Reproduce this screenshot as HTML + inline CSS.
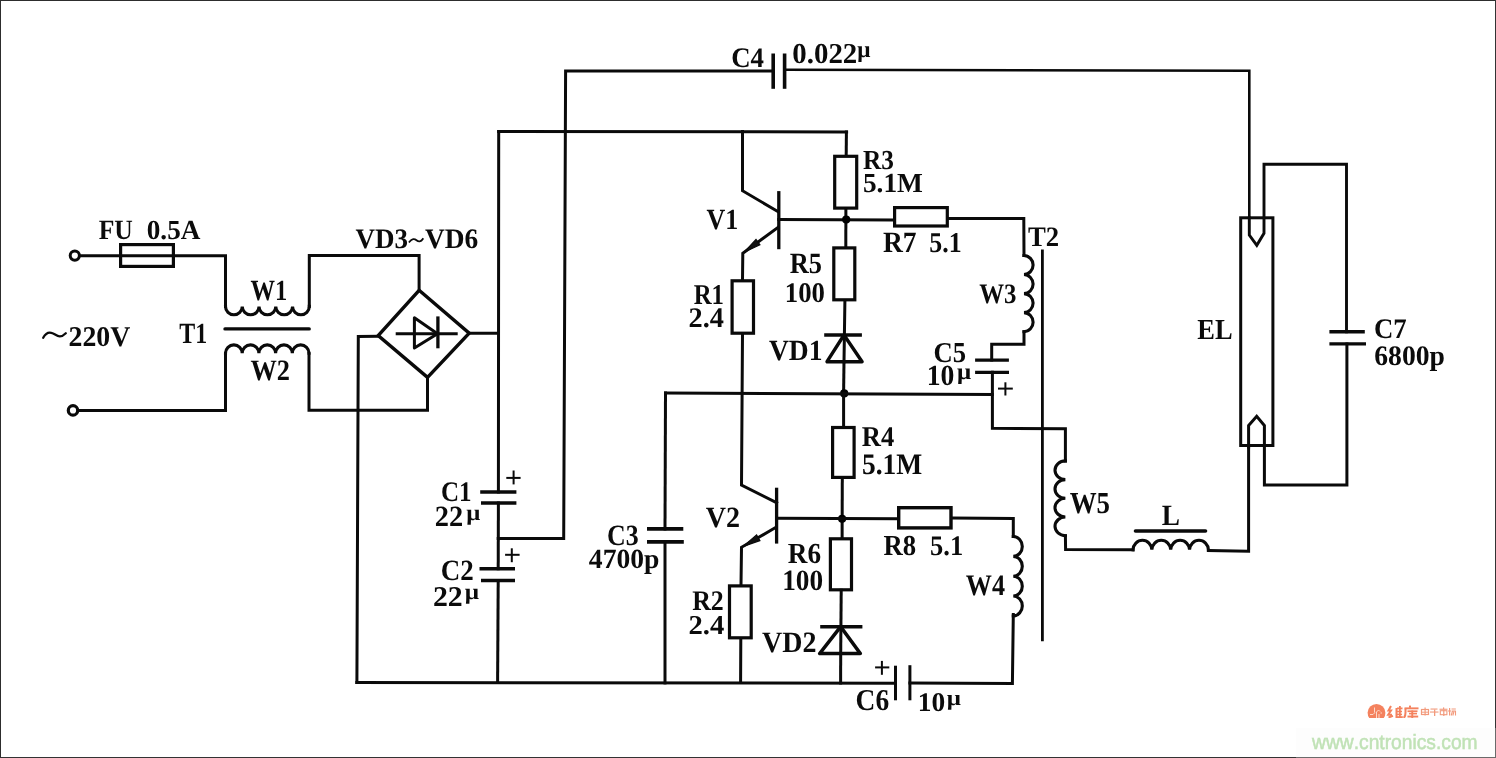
<!DOCTYPE html>
<html><head><meta charset="utf-8"><title>Electronic ballast circuit</title>
<style>
html,body{margin:0;padding:0;background:#fff;}
body{width:1496px;height:758px;overflow:hidden;position:relative;}
svg{position:absolute;left:0;top:0;display:block;}
text{font-family:"Liberation Serif",serif;fill:#0a0a0a;font-kerning:none;}
</style></head>
<body>
<svg width="1496" height="758" viewBox="0 0 1496 758" text-rendering="geometricPrecision">
<rect x="0" y="0" width="1496" height="758" fill="#fff"/>
<g stroke="#0a0a0a" stroke-linecap="square" stroke-linejoin="miter" fill="none">
<circle cx="74.8" cy="255.6" r="4.6" stroke-width="3.0" fill="#fff"/>
<path d="M79.5 255.8 L225.5 255.7 L225.5 306.4" stroke-width="3.0" fill="none"/>
<rect x="120.6" y="244.6" width="52.8" height="21.8" stroke-width="3.2" fill="none"/>
<path d="M225.5 306.4 A8.38 8.38 0 0 0 242.26 306.40 A8.38 8.38 0 0 0 259.02 306.40 A8.38 8.38 0 0 0 275.78 306.40 A8.38 8.38 0 0 0 292.54 306.40 A8.38 8.38 0 0 0 309.30 306.40" stroke-width="3.1" fill="none"/>
<path d="M309.3 306.4 L309.3 255.6 L419.1 255.6 L419.1 290.3" stroke-width="3.0" fill="none"/>
<path d="M225 328.9 L309.2 328.9" stroke-width="3.4" fill="none" stroke-linecap="round"/>
<path d="M225.5 353.2 A8.35 8.35 0 0 1 242.20 353.20 A8.35 8.35 0 0 1 258.90 353.20 A8.35 8.35 0 0 1 275.60 353.20 A8.35 8.35 0 0 1 292.30 353.20 A8.35 8.35 0 0 1 309.00 353.20" stroke-width="3.1" fill="none"/>
<path d="M225.5 353.2 L225.5 410.5 L77.6 410.4" stroke-width="3.0" fill="none"/>
<circle cx="73.0" cy="410.4" r="4.7" stroke-width="3.2" fill="#fff"/>
<path d="M309.0 353.2 L309.0 410.2 L427.5 410.2 L427.5 377.3" stroke-width="3.0" fill="none"/>
<path d="M419.1 290.3 L469.2 333.2 L427.5 377.3 L378.2 335.6 Z" stroke-width="3.4" fill="none"/>
<path d="M395.7 333.8 L457.7 333.8" stroke-width="3.1" fill="none" stroke-linecap="butt"/>
<path d="M414.4 317.8 L414.4 348.0 L437.5 333.8 Z" stroke-width="3.0" fill="none" stroke-linejoin="round"/>
<path d="M437.9 316.4 L437.9 348.3" stroke-width="3.3" fill="none" stroke-linecap="butt"/>
<path d="M378.2 336.2 L358.3 336.4 L356.9 682.4" stroke-width="3.0" fill="none"/>
<path d="M469.2 333.3 L498.4 333.3" stroke-width="3.0" fill="none"/>
<path d="M498.7 131.6 L498.4 492.0" stroke-width="3.0" fill="none"/>
<path d="M846.6 131.9 L498.7 131.6" stroke-width="3.0" fill="none"/>
<path d="M498.4 502.9 L498.2 568.8" stroke-width="3.0" fill="none"/>
<path d="M498.2 580.6 L497.6 682.6" stroke-width="3.0" fill="none"/>
<path d="M480.2 492.0 L516.4 492.0" stroke-width="3.5" fill="none" stroke-linecap="butt"/>
<path d="M481.0 502.9 L516.4 502.9" stroke-width="3.5" fill="none" stroke-linecap="butt"/>
<path d="M479.5 568.8 L515.0 568.8" stroke-width="3.5" fill="none" stroke-linecap="butt"/>
<path d="M481.0 580.6 L515.0 580.6" stroke-width="3.5" fill="none" stroke-linecap="butt"/>
<path d="M498.2 538.5 L563.7 538.5 L565.6 70.9 L773.2 71.0" stroke-width="3.0" fill="none"/>
<path d="M784.6 69.8 L1249.3 70.8 L1249.3 235.0" stroke-width="2.6" fill="none"/>
<path d="M773.2 53.5 L773.2 88.8" stroke-width="3.6" fill="none" stroke-linecap="butt"/>
<path d="M784.6 53.5 L784.6 88.8" stroke-width="3.6" fill="none" stroke-linecap="butt"/>
<path d="M356.9 682.4 L895.5 683.3" stroke-width="3.0" fill="none"/>
<path d="M909.9 683.0 L1012.4 683.5 L1013.3 614.5" stroke-width="3.0" fill="none"/>
<path d="M895.5 665.7 L895.5 700.3" stroke-width="3.0" fill="none" stroke-linecap="butt"/>
<path d="M909.9 665.2 L909.9 700.3" stroke-width="3.0" fill="none" stroke-linecap="butt"/>
<path d="M665.5 393.1 L665.0 528.9" stroke-width="3.0" fill="none"/>
<path d="M665.0 541.9 L665.0 682.9" stroke-width="3.0" fill="none"/>
<path d="M647.0 528.9 L683.3 528.9" stroke-width="3.7" fill="none" stroke-linecap="butt"/>
<path d="M647.0 541.9 L683.8 541.9" stroke-width="3.7" fill="none" stroke-linecap="butt"/>
<path d="M742.5 131.6 L742.5 190.7 L777.8 211.5" stroke-width="3.0" fill="none"/>
<path d="M778.8 191.1 L778.8 249.2" stroke-width="3.3" fill="none" stroke-linecap="butt"/>
<path d="M778.8 219.6 L893.2 219.9" stroke-width="3.0" fill="none"/>
<path d="M777.8 227.5 L742.8 253.2 L742.5 280.0" stroke-width="3.0" fill="none"/>
<path d="M744.0 252.3 L756.0 239.4 L759.9 244.7 Z" stroke-width="1.2" fill="#111"/>
<rect x="732.1" y="280.8" width="21.4" height="52.4" stroke-width="3.2" fill="#fff"/>
<path d="M742.5 334.1 L741.5 485.0 L776.6 502.7" stroke-width="3.0" fill="none"/>
<path d="M846.4 131.9 L846.2 155.6" stroke-width="3.0" fill="none"/>
<rect x="834.7" y="156.3" width="22.0" height="51.8" stroke-width="3.2" fill="#fff"/>
<path d="M845.9 208.4 L845.8 247.2" stroke-width="3.0" fill="none"/>
<circle cx="846.2" cy="219.6" r="4.1" fill="#000" stroke="none"/>
<rect x="833.8" y="247.9" width="21.0" height="51.9" stroke-width="3.2" fill="#fff"/>
<path d="M844.9 300.7 L844.0 361.7" stroke-width="3.0" fill="none"/>
<path d="M824.2 335.0 L861.9 335.0" stroke-width="3.4" fill="none" stroke-linecap="butt"/>
<path d="M844.0 335.0 L827.0 361.7 L862.1 361.7 Z" stroke-width="3.4" fill="none" stroke-linejoin="round"/>
<path d="M844.0 361.7 L843.6 393.3" stroke-width="3.0" fill="none"/>
<circle cx="844.2" cy="393.4" r="4.1" fill="#000" stroke="none"/>
<path d="M665.5 393.1 L992.3 394.4" stroke-width="3.0" fill="none"/>
<rect x="894.6" y="207.6" width="52.7" height="18.4" stroke-width="3.2" fill="#fff"/>
<path d="M948.6 218.6 L1023.8 218.4 L1024.0 255.5" stroke-width="3.0" fill="none"/>
<path d="M1024.0 255.5 A9.40 9.53 0 0 1 1024.00 274.55 A9.40 9.53 0 0 1 1024.00 293.60 A9.40 9.53 0 0 1 1024.00 312.65 A9.40 9.53 0 0 1 1024.00 331.70" stroke-width="3.1" fill="none"/>
<path d="M1024.0 331.7 L1024.0 344.3 L991.7 344.3 L991.7 360.1" stroke-width="3.0" fill="none"/>
<path d="M975.1 360.1 L1008.9 360.1" stroke-width="3.3" fill="none" stroke-linecap="butt"/>
<path d="M975.1 372.3 L1009.0 372.3" stroke-width="3.3" fill="none" stroke-linecap="butt"/>
<path d="M992.4 372.3 L992.4 428.3 L1065.4 428.8 L1065.4 460.9" stroke-width="3.0" fill="none"/>
<path d="M1042.4 251.0 L1042.4 639.8" stroke-width="2.8" fill="none"/>
<path d="M1065.4 460.9 A10.40 9.35 0 0 0 1065.40 479.60 A10.40 9.35 0 0 0 1065.40 498.30 A10.40 9.35 0 0 0 1065.40 517.00 A10.40 9.35 0 0 0 1065.40 535.70" stroke-width="3.1" fill="none"/>
<path d="M1065.4 535.7 L1065.6 549.6 L1133.0 549.8" stroke-width="3.0" fill="none"/>
<path d="M1133.0 549.8 A9.43 9.80 0 0 1 1151.85 549.80 A9.43 9.80 0 0 1 1170.70 549.80 A9.43 9.80 0 0 1 1189.55 549.80 A9.43 9.80 0 0 1 1208.40 549.80" stroke-width="3.1" fill="none"/>
<path d="M1135.5 531 L1205.5 531" stroke-width="3.6" fill="none" stroke-linecap="round"/>
<path d="M1208.4 550.6 L1248.6 551.2 L1248.6 445.0" stroke-width="3.0" fill="none"/>
<path d="M843.6 393.3 L843.6 426.6" stroke-width="3.0" fill="none"/>
<rect x="832.6" y="427.5" width="21.5" height="49.9" stroke-width="3.2" fill="#fff"/>
<path d="M842.3 477.5 L842.1 538.7" stroke-width="3.0" fill="none"/>
<circle cx="842.1" cy="518.8" r="4.1" fill="#000" stroke="none"/>
<path d="M776.6 487.7 L776.6 543.6" stroke-width="3.3" fill="none" stroke-linecap="butt"/>
<path d="M776.6 518.2 L897.7 518.8" stroke-width="3.0" fill="none"/>
<path d="M776.0 527.3 L741.5 547.3 L741.0 585.4" stroke-width="3.0" fill="none"/>
<path d="M743.2 546.4 L756.6 534.9 L759.9 540.6 Z" stroke-width="1.2" fill="#111"/>
<rect x="729.5" y="585.9" width="21.7" height="51.9" stroke-width="3.2" fill="#fff"/>
<path d="M740.8 639.0 L740.6 682.6" stroke-width="3.0" fill="none"/>
<rect x="830.4" y="538.8" width="21.1" height="51.0" stroke-width="3.2" fill="#fff"/>
<path d="M841.2 590.2 L840.7 653.5" stroke-width="3.0" fill="none"/>
<path d="M820.2 626.7 L862.4 626.7" stroke-width="3.5" fill="none" stroke-linecap="butt"/>
<path d="M840.7 626.7 L819.7 653.5 L860.3 653.5 Z" stroke-width="3.6" fill="none" stroke-linejoin="round"/>
<path d="M840.7 653.5 L840.6 683.0" stroke-width="3.0" fill="none"/>
<rect x="898.7" y="507.7" width="52.3" height="20.2" stroke-width="3.4" fill="#fff"/>
<path d="M951.8 518.1 L1013.3 518.4 L1013.3 536.5" stroke-width="3.0" fill="none"/>
<path d="M1013.3 536.5 A9.30 9.93 0 0 1 1013.30 556.35 A9.30 9.93 0 0 1 1013.30 576.20 A9.30 9.93 0 0 1 1013.30 596.05 A9.30 9.93 0 0 1 1013.30 615.90" stroke-width="3.1" fill="none"/>
<rect x="1240.7" y="217.8" width="32.2" height="227.7" stroke-width="3.0" fill="#fff"/>
<path d="M1249.3 217.8 L1249.3 235 L1256.8 245.3 L1264 233.3 L1264 164.3 L1346.5 164.3 L1346.5 331.7" stroke-width="2.9" fill="none"/>
<path d="M1329.4 331.7 L1364.8 331.7" stroke-width="3.4" fill="none" stroke-linecap="butt"/>
<path d="M1329.4 343.9 L1366.0 343.9" stroke-width="3.4" fill="none" stroke-linecap="butt"/>
<path d="M1346.9 343.9 L1346.9 485.1 L1264.4 485.1 L1264.4 425.5 L1256.7 416.2 L1248.6 425.5 L1248.6 447.0" stroke-width="3.0" fill="none"/>
<path d="M506.3 477.9 L520.6 477.9" stroke-width="2.0" fill="none" stroke-linecap="butt"/>
<path d="M513.6 470.5 L513.6 484.4" stroke-width="2.0" fill="none" stroke-linecap="butt"/>
<path d="M505.1 554.8 L519.6 554.8" stroke-width="2.0" fill="none" stroke-linecap="butt"/>
<path d="M511.8 548.3 L511.8 562.2" stroke-width="2.0" fill="none" stroke-linecap="butt"/>
<path d="M998 388.6 L1012.8 388.6" stroke-width="2.0" fill="none" stroke-linecap="butt"/>
<path d="M1005.4 382.3 L1005.4 395.5" stroke-width="2.0" fill="none" stroke-linecap="butt"/>
<path d="M875.1 667.4 L889.3 667.4" stroke-width="2.0" fill="none" stroke-linecap="butt"/>
<path d="M881.9 660.9 L881.9 674.8" stroke-width="2.0" fill="none" stroke-linecap="butt"/>
<path d="M43.2 337.8 C45.5 333.5, 48.5 331.6, 52.5 333.2 S59.5 339.6, 65.8 333.3" stroke-width="2.3" fill="none" stroke-linecap="round"/>
<path d="M409.5 241.8 C412 238.5, 414.5 238.5, 416.5 240.2 S421 242, 422.8 239" stroke-width="1.8" fill="none"/>
</g>
<g opacity="0.995">
<text transform="translate(98.66 238.90) scale(0.917 1)" font-size="27.95" font-weight="bold">FU</text>
<text transform="translate(146.76 238.90) scale(0.988 1)" font-size="27.52" font-weight="bold">0.5A</text>
<text transform="translate(250.55 300.20) scale(0.837 1)" font-size="29.24" font-weight="bold">W1</text>
<text transform="translate(179.23 343.30) scale(0.818 1)" font-size="29.24" font-weight="bold">T1</text>
<text transform="translate(250.53 379.50) scale(0.890 1)" font-size="29.60" font-weight="bold">W2</text>
<text transform="translate(68.53 345.90) scale(0.973 1)" font-size="28.57" font-weight="bold">220V</text>
<text transform="translate(355.40 248.10) scale(0.957 1)" font-size="28.24" font-weight="bold">VD3</text>
<text transform="translate(424.89 248.10) scale(0.971 1)" font-size="28.24" font-weight="bold">VD6</text>
<text transform="translate(731.19 66.50) scale(0.950 1)" font-size="28.24" font-weight="bold">C4</text>
<text transform="translate(792.30 62.90) scale(1.001 1)" font-size="28.87" font-weight="bold">0.022</text>
<text transform="translate(857.20 56.56) scale(1.002 1)" font-size="23.22" font-weight="bold">μ</text>
<text transform="translate(863.07 168.50) scale(0.920 1)" font-size="27.49" font-weight="bold">R3</text>
<text transform="translate(862.91 192.20) scale(0.992 1)" font-size="27.57" font-weight="bold">5.1M</text>
<text transform="translate(706.61 229.40) scale(0.888 1)" font-size="29.24" font-weight="bold">V1</text>
<text transform="translate(882.93 252.10) scale(0.934 1)" font-size="29.48" font-weight="bold">R7</text>
<text transform="translate(929.36 252.40) scale(0.900 1)" font-size="28.78" font-weight="bold">5.1</text>
<text transform="translate(789.75 273.20) scale(0.899 1)" font-size="29.32" font-weight="bold">R5</text>
<text transform="translate(784.76 301.90) scale(0.942 1)" font-size="28.42" font-weight="bold">100</text>
<text transform="translate(693.68 303.60) scale(0.866 1)" font-size="28.63" font-weight="bold">R1</text>
<text transform="translate(688.51 327.10) scale(0.998 1)" font-size="28.39" font-weight="bold">2.4</text>
<text transform="translate(768.89 359.70) scale(0.942 1)" font-size="29.24" font-weight="bold">VD1</text>
<text transform="translate(933.60 362.10) scale(0.924 1)" font-size="28.85" font-weight="bold">C5</text>
<text transform="translate(926.78 384.90) scale(0.944 1)" font-size="29.32" font-weight="bold">10</text>
<text transform="translate(956.98 378.99) scale(1.081 1)" font-size="23.07" font-weight="bold">μ</text>
<text transform="translate(1027.98 245.80) scale(0.951 1)" font-size="28.09" font-weight="bold">T2</text>
<text transform="translate(979.25 303.30) scale(0.885 1)" font-size="28.09" font-weight="bold">W3</text>
<text transform="translate(1069.72 512.70) scale(0.885 1)" font-size="30.39" font-weight="bold">W5</text>
<text transform="translate(1161.63 525.30) scale(0.931 1)" font-size="29.32" font-weight="bold">L</text>
<text transform="translate(1373.89 337.80) scale(0.949 1)" font-size="28.24" font-weight="bold">C7</text>
<text transform="translate(1374.26 365.20) scale(0.979 1)" font-size="28.25" font-weight="bold">6800p</text>
<text transform="translate(1197.35 338.80) scale(0.911 1)" font-size="29.02" font-weight="bold">EL</text>
<text transform="translate(606.94 544.60) scale(0.884 1)" font-size="29.30" font-weight="bold">C3</text>
<text transform="translate(588.82 567.70) scale(0.994 1)" font-size="27.79" font-weight="bold">4700p</text>
<text transform="translate(705.68 527.20) scale(0.958 1)" font-size="29.30" font-weight="bold">V2</text>
<text transform="translate(861.85 446.00) scale(0.929 1)" font-size="28.56" font-weight="bold">R4</text>
<text transform="translate(861.90 473.60) scale(0.926 1)" font-size="29.69" font-weight="bold">5.1M</text>
<text transform="translate(883.44 554.70) scale(0.920 1)" font-size="29.02" font-weight="bold">R8</text>
<text transform="translate(930.04 554.70) scale(0.936 1)" font-size="28.33" font-weight="bold">5.1</text>
<text transform="translate(787.83 562.90) scale(0.934 1)" font-size="29.15" font-weight="bold">R6</text>
<text transform="translate(782.22 589.70) scale(0.926 1)" font-size="29.47" font-weight="bold">100</text>
<text transform="translate(692.16 610.00) scale(0.912 1)" font-size="28.39" font-weight="bold">R2</text>
<text transform="translate(688.50 633.60) scale(1.049 1)" font-size="27.34" font-weight="bold">2.4</text>
<text transform="translate(761.99 651.80) scale(0.945 1)" font-size="29.60" font-weight="bold">VD2</text>
<text transform="translate(855.56 709.60) scale(0.904 1)" font-size="30.36" font-weight="bold">C6</text>
<text transform="translate(917.80 711.40) scale(1.014 1)" font-size="27.07" font-weight="bold">10</text>
<text transform="translate(946.78 705.21) scale(1.132 1)" font-size="22.03" font-weight="bold">μ</text>
<text transform="translate(965.83 594.50) scale(0.879 1)" font-size="29.78" font-weight="bold">W4</text>
<text transform="translate(440.88 500.80) scale(0.887 1)" font-size="28.24" font-weight="bold">C1</text>
<text transform="translate(434.71 526.40) scale(0.970 1)" font-size="29.30" font-weight="bold">22</text>
<text transform="translate(466.19 519.88) scale(1.094 1)" font-size="22.62" font-weight="bold">μ</text>
<text transform="translate(440.78 580.20) scale(0.921 1)" font-size="29.30" font-weight="bold">C2</text>
<text transform="translate(432.95 605.60) scale(1.040 1)" font-size="28.70" font-weight="bold">22</text>
<text transform="translate(464.78 599.15) scale(1.125 1)" font-size="22.33" font-weight="bold">μ</text>
</g>
<!-- watermark -->
<g>
<rect x="1361" y="702" width="95" height="16" fill="#fff"/>
<clipPath id="lc"><rect x="1360" y="700" width="100" height="18"/></clipPath>
<g clip-path="url(#lc)">
<circle cx="1376.5" cy="712.8" r="8.9" fill="#f4825e"/>
<path d="M1370 714.5 h3 l2 -2 M1374.5 712.5 v-5 M1376.5 718 v-6 l2 -2 M1379 714 v4 M1378.5 710 l1.5 1.5 M1380.5 713 h1.5" stroke="#fde3d8" stroke-width="0.9" fill="none"/>
<g fill="#f4825e">
<!-- 维 -->
<path d="M1391 706 l-2.5 4.5 h2.5 l-2.8 4.2 h3.8 M1388.5 717.5 l4.5 -1.6" stroke="#f4825e" stroke-width="2" fill="none"/>
<rect x="1395.5" y="708" width="2" height="10"/>
<rect x="1397" y="707.5" width="5.5" height="1.8"/>
<rect x="1397" y="710.7" width="5" height="1.6"/>
<rect x="1397" y="713.6" width="5" height="1.6"/>
<rect x="1397" y="716.2" width="5.8" height="1.8"/>
<rect x="1399" y="706" width="1.8" height="11"/>
<!-- 库 -->
<rect x="1409" y="705.6" width="2" height="2.2"/>
<rect x="1404.5" y="707.4" width="14" height="1.9"/>
<path d="M1405.5 708.5 v4 q0 4 -1.8 5.5" stroke="#f4825e" stroke-width="2" fill="none"/>
<rect x="1407.5" y="710.4" width="10" height="1.7"/>
<rect x="1409" y="712.8" width="8" height="1.6"/>
<rect x="1407.5" y="715.6" width="10.7" height="1.9"/>
<rect x="1411.3" y="710.5" width="1.9" height="7.5"/>
</g>
<g fill="#f29a7c">
<!-- 电子市场 -->
<rect x="1421.5" y="709.5" width="7" height="5" fill="none" stroke="#f29a7c" stroke-width="1.2"/>
<rect x="1421.5" y="711.7" width="7" height="1"/>
<rect x="1424.5" y="707.5" width="1.2" height="8"/>
<rect x="1430.5" y="708.5" width="7" height="1.1"/>
<rect x="1430" y="711.5" width="8.5" height="1.1"/>
<rect x="1434" y="709.5" width="1.3" height="6.5"/>
<rect x="1443" y="707.4" width="1.2" height="1.6"/>
<rect x="1439.5" y="708.7" width="8" height="1.1"/>
<rect x="1440.3" y="710.7" width="6.6" height="4" fill="none" stroke="#f29a7c" stroke-width="1.1"/>
<rect x="1443.2" y="709.5" width="1.2" height="6.5"/>
<rect x="1449" y="708" width="1.2" height="7.5"/>
<rect x="1448" y="710.5" width="3.2" height="1"/>
<rect x="1451.5" y="708.5" width="4.3" height="1"/>
<path d="M1451.8 711 h4 M1452.5 711 l-1.3 4.5 M1454 711.5 l-1.2 4 M1455.5 711 v4.5" stroke="#f29a7c" stroke-width="1.1" fill="none"/>
</g>
</g>
<rect x="1296" y="728" width="200" height="30" fill="#f8f8f8" fill-opacity="0.3"/>
<filter id="nf" x="0" y="0" width="1" height="1"><feOffset dx="0" dy="0"/></filter><g filter="url(#nf)"><text transform="translate(1312.03 748.5) scale(0.932 1)" font-size="20.64" style="font-family:'Liberation Sans',sans-serif;font-weight:normal;fill:#c0e2b6;stroke:#c0e2b6;stroke-width:0.5">www.cntronics.com</text></g>
</g>
<rect x="0" y="0" width="1496" height="1" fill="#2d2d2d"/>
<rect x="0" y="0" width="1" height="758" fill="#2d2d2d"/>
<rect x="1495" y="0" width="1" height="758" fill="#333"/>
<rect x="0" y="757" width="1496" height="1" fill="#333"/>
<rect x="1296" y="757" width="200" height="1" fill="#6a6a6a"/>
<rect x="1495" y="728" width="1" height="30" fill="#6a6a6a"/>
</svg>
</body></html>
